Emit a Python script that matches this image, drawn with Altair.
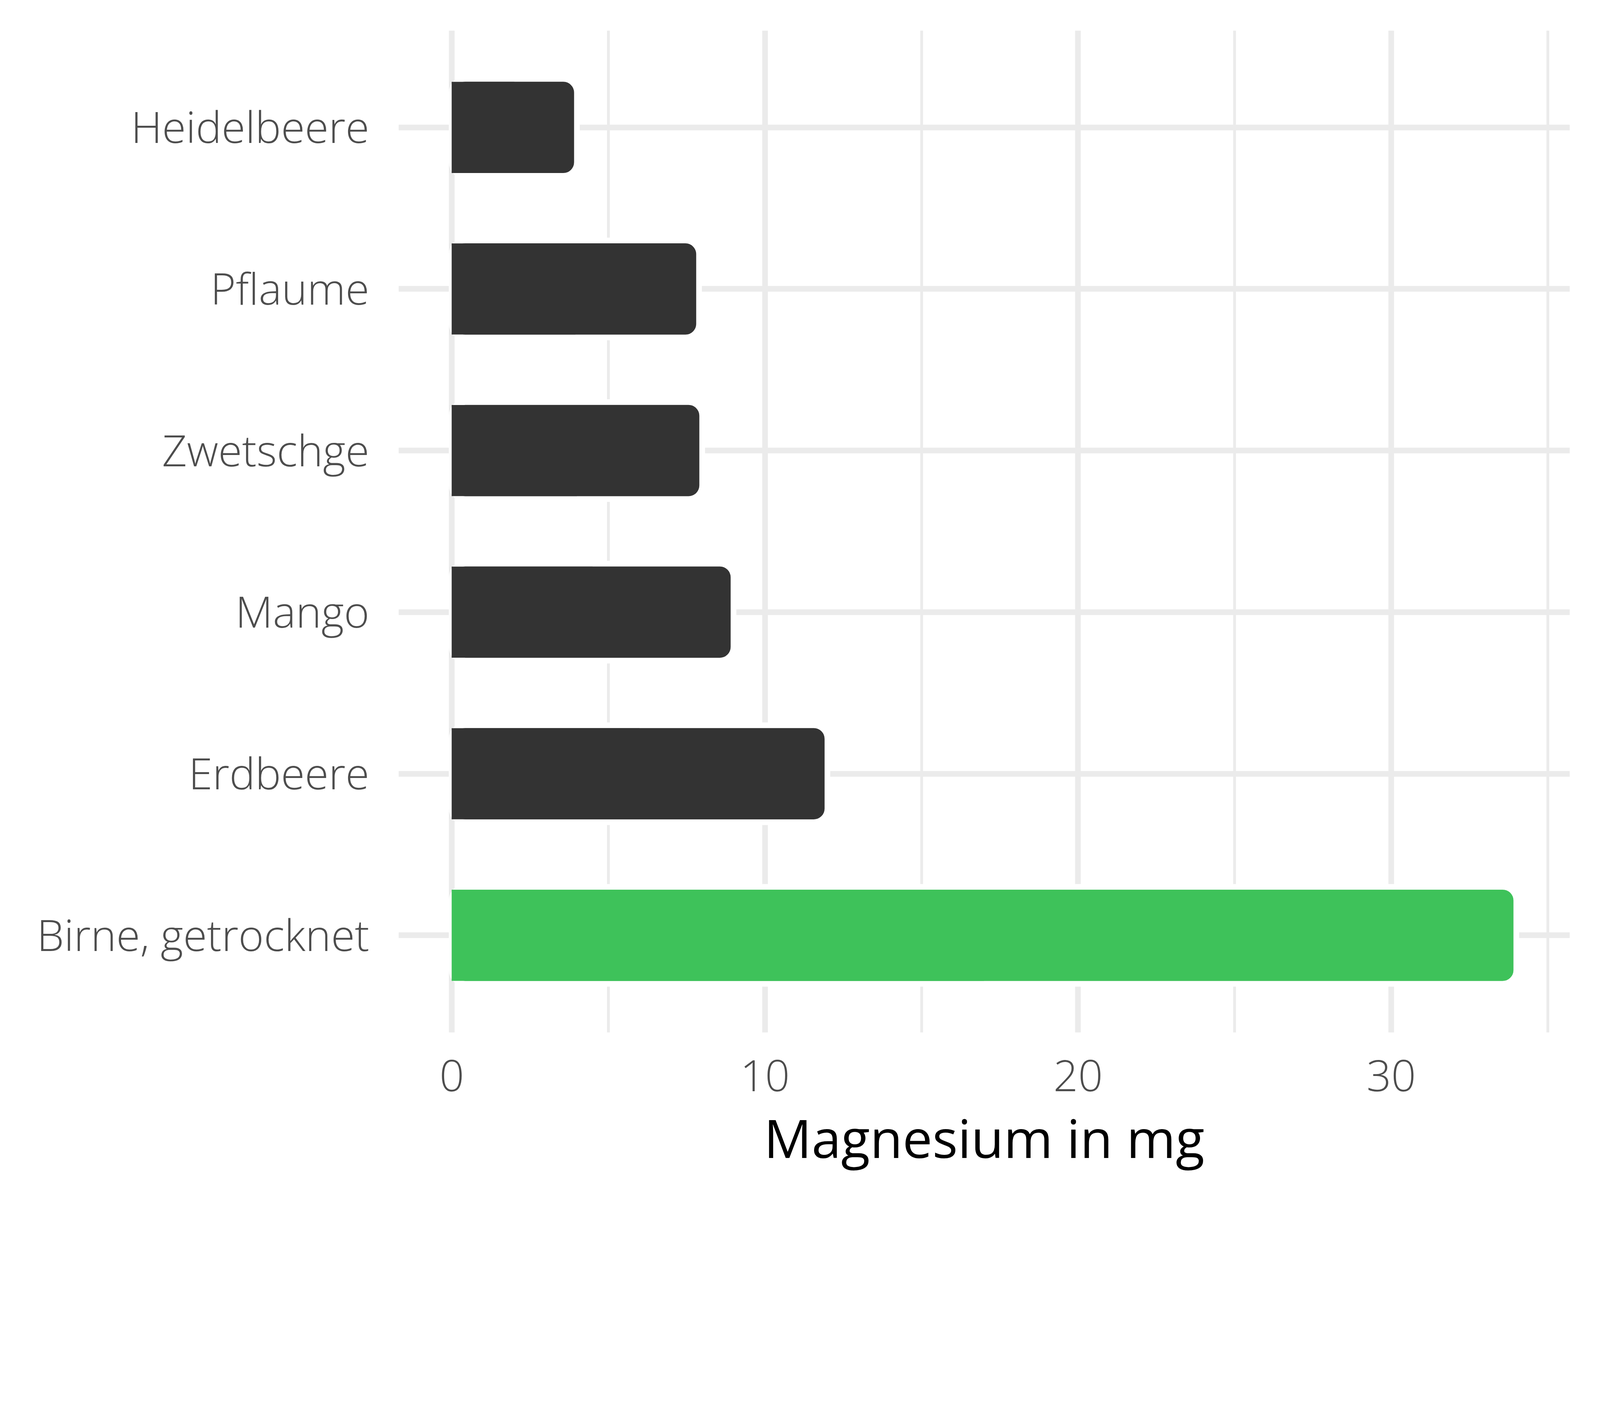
import altair as alt
import pandas as pd

categories = ["Heidelbeere", "Pflaume", "Zwetschge", "Mango", "Erdbeere", "Birne, getrocknet"]
values = [4.0, 7.9, 8.0, 9.0, 12.0, 34.0]
groups = ["other", "other", "other", "other", "other", "highlight"]

x_ticks = [0, 5, 10, 15, 20, 25, 30, 35]

df = pd.DataFrame({"Lebensmittel": categories, "Magnesium": values, "Gruppe": groups})

GRID = "#EBEBEB"
FONT = "Open Sans"

y_enc = alt.Y(
    "Lebensmittel:N",
    sort=categories,
    scale=alt.Scale(paddingInner=0.4, paddingOuter=0.3),
    axis=alt.Axis(
        title=None, domain=False, ticks=False, tickSize=0,
        labelPadding=75, labelOffset=7, labelFont=FONT, labelFontSize=111,
        labelFontWeight=300, labelColor="#4D4D4D", labelLimit=0,
        grid=True, gridColor=GRID, gridWidth=14.5,
    ),
)

color_enc = alt.Color(
    "Gruppe:N",
    scale=alt.Scale(domain=["other", "highlight"], range=["#333333", "#3EC25A"]),
    legend=None,
)

x_enc = alt.X(
    "Magnesium:Q",
    scale=alt.Scale(domain=[-1.7, 35.7], nice=False, zero=False),
    axis=alt.Axis(
        title="Magnesium in mg", values=x_ticks,
        labelExpr="datum.value % 10 === 0 ? datum.label : ''",
        domain=False, ticks=False, tickSize=0,
        labelPadding=62, labelFont=FONT, labelFontSize=111,
        labelFontWeight=300, labelColor="#4D4D4D",
        grid=True, gridColor=GRID,
        gridWidth={"expr": "datum.value % 10 === 0 ? 14.5 : 7.25"},
        titleFont=FONT, titleFontSize=136, titleFontWeight=400,
        titleColor="#000000", titleBaseline="alphabetic", titleY=321,
    ),
)

bars = alt.Chart(df).mark_bar(
    cornerRadius=35, stroke="white", strokeWidth=14.5
).encode(
    x=x_enc,
    x2=alt.datum(0),
    y=y_enc,
    color=color_enc,
)

squares = alt.Chart(df).transform_calculate(
    Magnesium="datum.Magnesium / 2"
).mark_bar(height={"band": 0.94}).encode(
    x=x_enc,
    x2=alt.datum(0),
    y=y_enc,
    color=color_enc,
)

chart = alt.layer(bars, squares).properties(
    width=2998,
    height=2565,
    padding={"left": 1012, "top": 70, "right": 70, "bottom": 421},
    autosize=alt.AutoSizeParams(type="none"),
    background="white",
).configure_view(stroke=None)

chart.save("out.html", embed_options={"renderer": "svg", "actions": False})
